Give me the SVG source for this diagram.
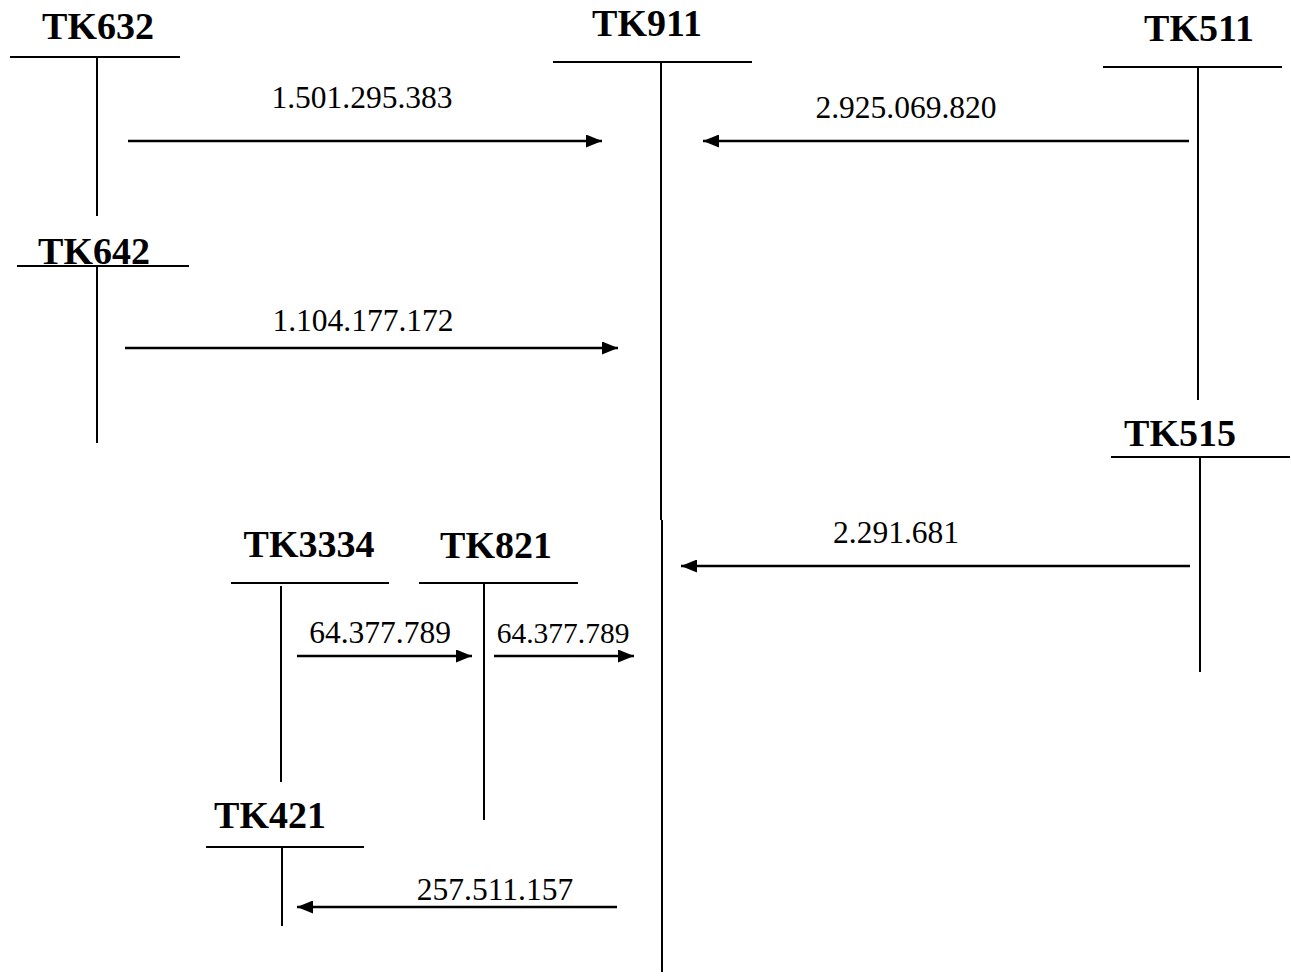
<svg xmlns="http://www.w3.org/2000/svg" width="1291" height="978" viewBox="0 0 1291 978">
<style>
.lbl{font-family:"Liberation Serif","Times New Roman",serif;font-weight:bold;font-size:38px;fill:#000;text-anchor:middle}
.num{font-family:"Liberation Serif","Times New Roman",serif;font-size:31.5px;fill:#000;text-anchor:middle}
.ln{stroke:#000;stroke-width:2;fill:none}
.arr{stroke:#000;stroke-width:2.5;fill:none;marker-end:url(#ah)}
</style>
<defs>
<marker id="ah" markerUnits="userSpaceOnUse" markerWidth="17" markerHeight="13" refX="16" refY="6.5" orient="auto">
<path d="M0,0 L16,6.5 L0,13 z" fill="#000"/>
</marker>
</defs>
<rect width="1291" height="978" fill="#fff"/>
<g id="tk632">
<text class="lbl" x="98" y="39">TK632</text>
<line class="ln" x1="10" y1="57" x2="180" y2="57"/>
<line class="ln" x1="97" y1="57" x2="97" y2="216"/>
</g>
<g id="tk911">
<text class="lbl" x="647" y="36">TK911</text>
<line class="ln" x1="553" y1="62" x2="752" y2="62"/>
<line class="ln" x1="661" y1="62" x2="661" y2="520"/>
<line class="ln" x1="662" y1="520" x2="662" y2="972"/>
</g>
<g id="tk511">
<text class="lbl" x="1199" y="41">TK511</text>
<line class="ln" x1="1103" y1="67" x2="1282" y2="67"/>
<line class="ln" x1="1198" y1="67" x2="1198" y2="400"/>
</g>
<g id="tk642">
<text class="lbl" x="94" y="264">TK642</text>
<line class="ln" x1="17" y1="266" x2="189" y2="266"/>
<line class="ln" x1="97" y1="266" x2="97" y2="443"/>
</g>
<g id="tk515">
<text class="lbl" x="1180" y="446">TK515</text>
<line class="ln" x1="1111" y1="457" x2="1290" y2="457"/>
<line class="ln" x1="1200" y1="457" x2="1200" y2="672"/>
</g>
<g id="tk3334">
<text class="lbl" x="309" y="557">TK3334</text>
<line class="ln" x1="231" y1="583" x2="389" y2="583"/>
<line class="ln" x1="281" y1="586" x2="281" y2="782"/>
</g>
<g id="tk821">
<text class="lbl" x="496" y="558">TK821</text>
<line class="ln" x1="419" y1="583" x2="578" y2="583"/>
<line class="ln" x1="484" y1="583" x2="484" y2="820"/>
</g>
<g id="tk421">
<text class="lbl" x="270" y="828">TK421</text>
<line class="ln" x1="206" y1="847" x2="364" y2="847"/>
<line class="ln" x1="282" y1="847" x2="282" y2="926"/>
</g>
<g id="connectors">
<line class="arr" x1="128" y1="141" x2="602" y2="141"/>
<text class="num" x="362" y="108">1.501.295.383</text>
<line class="arr" x1="1189" y1="141" x2="703" y2="141"/>
<text class="num" x="906" y="118">2.925.069.820</text>
<line class="arr" x1="125" y1="348" x2="618" y2="348"/>
<text class="num" x="363" y="331">1.104.177.172</text>
<line class="arr" x1="1190" y1="566" x2="681" y2="566"/>
<text class="num" x="896" y="543">2.291.681</text>
<line class="arr" x1="297" y1="656" x2="472" y2="656"/>
<text class="num" x="380" y="643">64.377.789</text>
<line class="arr" x1="494" y1="656" x2="634" y2="656"/>
<text class="num" x="563" y="643" style="font-size:29.5px">64.377.789</text>
<line class="arr" x1="617" y1="907" x2="297" y2="907"/>
<text class="num" x="495" y="900">257.511.157</text>
</g>
</svg>
